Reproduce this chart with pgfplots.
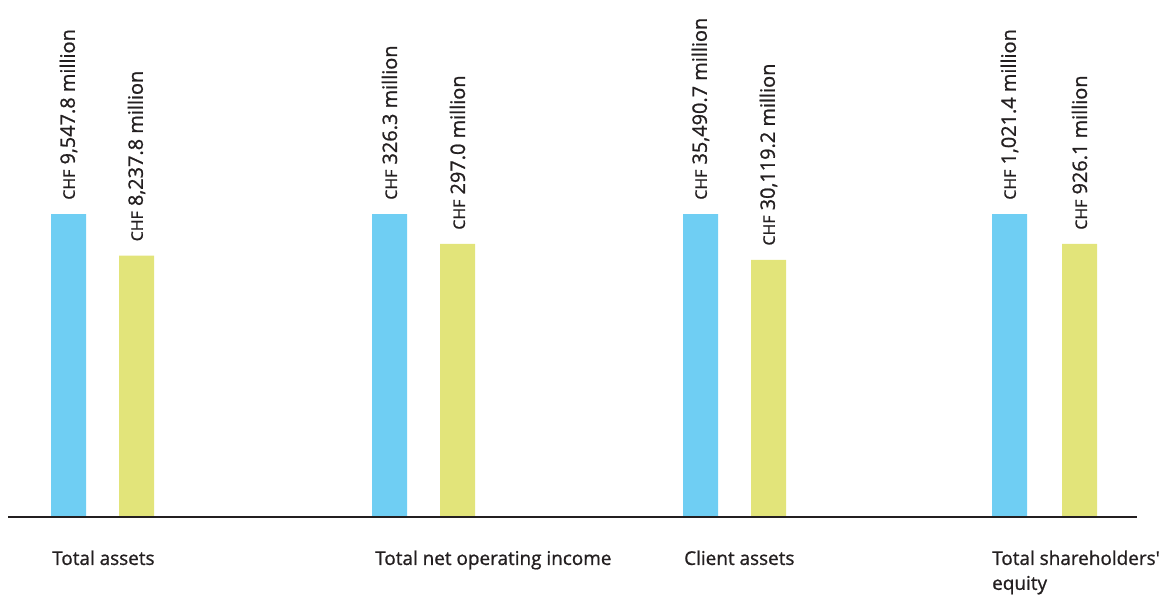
\documentclass[border=0pt]{standalone}
\usepackage{pgfplots}
\pgfplotsset{compat=1.18}
\usepackage{fontspec}
\setmainfont{Open Sans}[RawFeature={embolden=1}]
\definecolor{cblue}{HTML}{6FCEF3}
\definecolor{cyel}{HTML}{E2E47A}
\definecolor{ctext}{HTML}{231F20}
\newcommand{\chf}{{\fontsize{16}{16}\selectfont CHF}}
\begin{document}
\begin{tikzpicture}
\begin{axis}[
  scale only axis, width=1164bp, height=593bp,
  xmin=0, xmax=1164, ymin=-25.08, ymax=170.63,
  hide axis, clip=false,
  ybar, bar width=35, bar shift=0pt,
  nodes near coords, point meta=explicit symbolic,
  every node near coord/.style={rotate=90, anchor=west, outer xsep=11bp,
     font=\fontsize{20}{20}\selectfont, text=ctext},
]
\addplot[fill=cblue, draw=none] table[meta=label, col sep=semicolon] {
x;y;label
68.5;100;\chf{} 9,547.8 million
389.5;100;\chf{} 326.3 million
700.5;100;\chf{} 35,490.7 million
1009.5;100;\chf{} 1,021.4 million
};
\addplot[fill=cyel, draw=none] table[meta=label, col sep=semicolon] {
x;y;label
136.5;86.28;\chf{} 8,237.8 million
457.5;90.1;\chf{} 297.0 million
768.5;84.87;\chf{} 30,119.2 million
1079.5;90.1;\chf{} 926.1 million
};
\addplot[sharp plot, draw=ctext, line width=2.2bp, nodes near coords={}] coordinates {(8,0) (1137,0)};
\path (axis cs:0,-25.08) (axis cs:1164,170.63);
\begin{scope}[every node/.style={anchor=north west, align=left, inner sep=0pt, text=ctext, font=\fontsize{19}{25}\selectfont}]
\node at (axis cs:52,-11) {Total assets};
\node at (axis cs:375,-11) {Total net operating income};
\node at (axis cs:684,-11) {Client assets};
\node at (axis cs:992,-11) {Total shareholders\textquotesingle\\equity};
\end{scope}
\end{axis}
\end{tikzpicture}
\end{document}
